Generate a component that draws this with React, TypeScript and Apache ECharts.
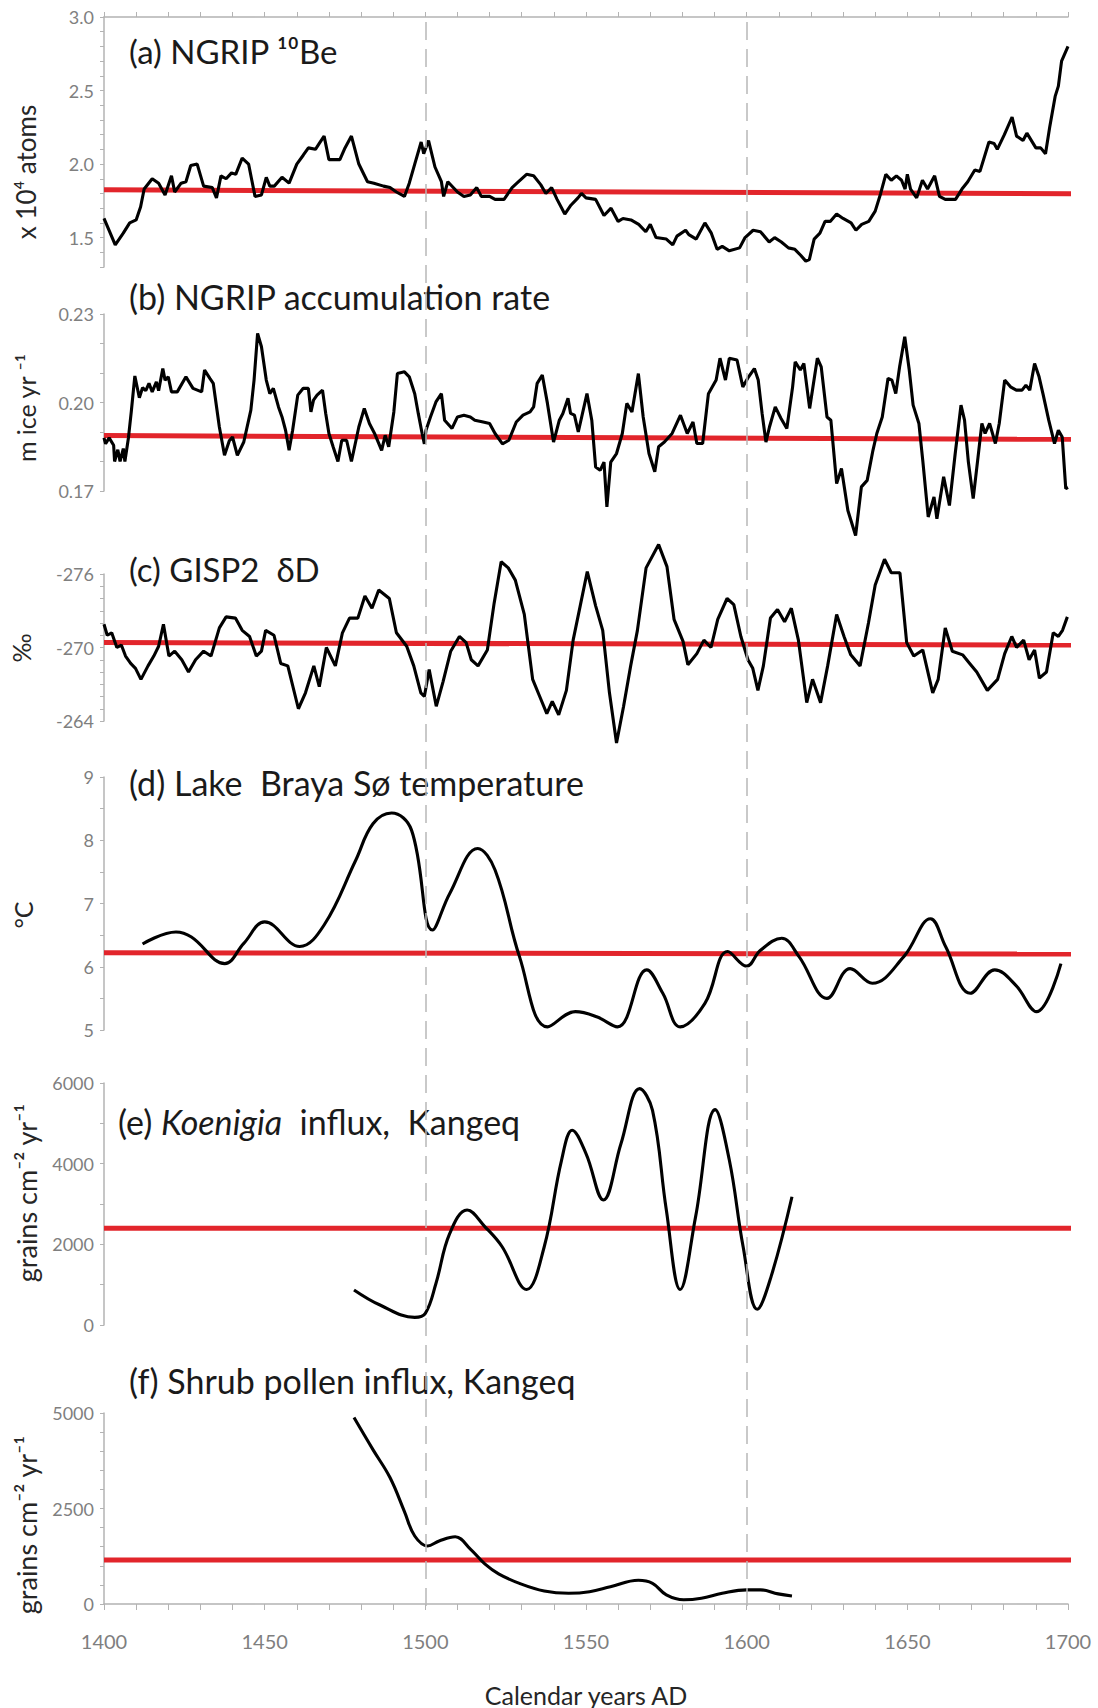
import React, { useEffect, useRef } from "react";
import * as echarts from "echarts";

const W = 1098;
const H = 1708;
const YEAR_MIN = 1400;
const YEAR_MAX = 1700;
const FONT = "Lato, 'Noto Sans', 'DejaVu Sans', sans-serif";

const guideYears = [1500, 1600];

// (a) NGRIP 10Be  [year, x10^4 atoms]
const be10: [number, number][] = [
  [1400, 1.63], [1403.5, 1.45], [1406, 1.53], [1408, 1.6], [1410, 1.62], [1411.4, 1.71], [1412.5, 1.83],
  [1415, 1.9], [1417, 1.87], [1419, 1.79], [1421, 1.92], [1422, 1.81], [1424, 1.87], [1425.5, 1.88],
  [1427, 1.99], [1429, 2.0], [1431, 1.85], [1433.7, 1.84], [1435, 1.77], [1436.4, 1.92], [1438, 1.9],
  [1439.7, 1.94], [1441, 1.93], [1443, 2.04], [1445, 2.0], [1446, 1.89], [1447, 1.78], [1449, 1.79],
  [1450.5, 1.91], [1451.6, 1.85], [1453, 1.85], [1455.4, 1.91], [1457.6, 1.87], [1460, 2.0], [1462, 2.06],
  [1463.6, 2.11], [1465.8, 2.1], [1467, 2.14], [1468.5, 2.19], [1470, 2.03], [1473.4, 2.03], [1475, 2.11],
  [1477, 2.19], [1479.3, 2.0], [1482, 1.88], [1484, 1.87], [1487, 1.85], [1489, 1.84], [1491, 1.81],
  [1493.5, 1.78], [1495, 1.87], [1496.7, 2.0], [1498.7, 2.15], [1499.5, 2.07], [1501, 2.16], [1503, 1.98],
  [1505, 1.88], [1505.7, 1.78], [1507, 1.88], [1510, 1.81], [1512, 1.78], [1514, 1.79], [1516, 1.84],
  [1517.4, 1.78], [1520, 1.78], [1521.7, 1.76], [1524.5, 1.76], [1527, 1.84], [1529, 1.88], [1531.5, 1.93],
  [1533.7, 1.92], [1535.9, 1.86], [1537.5, 1.8], [1539.3, 1.84], [1541, 1.76], [1543.4, 1.66], [1545.3, 1.72],
  [1547.5, 1.77], [1548.6, 1.8], [1550, 1.77], [1553, 1.76], [1555.6, 1.65], [1557.8, 1.7], [1560, 1.61],
  [1561.5, 1.63], [1564, 1.62], [1566.4, 1.59], [1568.6, 1.54], [1570, 1.59], [1571.8, 1.5], [1575, 1.49],
  [1577, 1.45], [1578.3, 1.51], [1581, 1.55], [1582, 1.52], [1584.3, 1.49], [1587, 1.6], [1589, 1.53],
  [1590.8, 1.42], [1592.4, 1.44], [1594.6, 1.41], [1597.8, 1.43], [1599.5, 1.5], [1602, 1.55], [1604.3, 1.54],
  [1607, 1.47], [1608.7, 1.5], [1610.8, 1.47], [1613, 1.43], [1615, 1.42], [1616.8, 1.38], [1618.4, 1.34],
  [1619.5, 1.35], [1621, 1.49], [1622.8, 1.53], [1624.4, 1.61], [1626, 1.61], [1628, 1.66], [1630, 1.63],
  [1632.5, 1.6], [1634, 1.55], [1635.8, 1.59], [1638, 1.61], [1640, 1.68], [1641.7, 1.8], [1643.3, 1.93],
  [1645, 1.89], [1646.6, 1.92], [1648.2, 1.89], [1649.3, 1.83], [1650, 1.93], [1651, 1.83], [1652.9, 1.77],
  [1654.7, 1.89], [1656.3, 1.83], [1658.5, 1.92], [1660, 1.78], [1661.8, 1.76], [1665, 1.76], [1667, 1.83],
  [1668.8, 1.88], [1671, 1.96], [1672.6, 1.95], [1675.4, 2.15], [1677, 2.14], [1678, 2.1], [1680.2, 2.2],
  [1682.6, 2.32], [1684, 2.19], [1686, 2.16], [1687.2, 2.21], [1690, 2.11], [1691.5, 2.11], [1693, 2.07],
  [1694.3, 2.25], [1696, 2.46], [1697, 2.53], [1698, 2.7], [1700, 2.8],
];

// (b) NGRIP accumulation rate  [year, m ice / yr]
const accumulation: [number, number][] = [
  [1400, 0.188], [1400.5, 0.186], [1401.6, 0.188], [1403, 0.1855], [1403.3, 0.18], [1404.3, 0.184],
  [1405, 0.18], [1406, 0.1844], [1406.5, 0.18], [1407.6, 0.188], [1408.5, 0.197], [1409.6, 0.209],
  [1411, 0.2016], [1412, 0.205], [1413, 0.204], [1414, 0.2065], [1415, 0.2036], [1416.3, 0.207],
  [1417, 0.204], [1418.3, 0.2115], [1419, 0.2076], [1420, 0.2087], [1421, 0.2036], [1422.8, 0.2036],
  [1425.5, 0.2087], [1427.7, 0.2048], [1430.4, 0.2036], [1431.3, 0.211], [1433, 0.2081], [1434, 0.2065],
  [1435.9, 0.1917], [1437.5, 0.1821], [1439, 0.187], [1440, 0.1883], [1441.5, 0.1821], [1443.5, 0.1866],
  [1445.7, 0.1974], [1446.7, 0.2076], [1447.8, 0.2234], [1449, 0.2189], [1450.5, 0.2076], [1451.6, 0.203],
  [1452.7, 0.2048], [1454.3, 0.1985], [1455.4, 0.1951], [1456.5, 0.1906], [1457.6, 0.1838], [1458.7, 0.1906],
  [1460.3, 0.2025], [1462, 0.2048], [1463.6, 0.2048], [1464.4, 0.1968], [1465.2, 0.2008], [1466.3, 0.2025],
  [1468, 0.2042], [1469, 0.1963], [1470, 0.1895], [1471.3, 0.185], [1472.8, 0.18], [1474, 0.1872],
  [1475.5, 0.1872], [1477, 0.18], [1479.3, 0.1917], [1481, 0.198], [1482.6, 0.1929], [1484.2, 0.1895],
  [1486.4, 0.1838], [1487.5, 0.1889], [1488.6, 0.185], [1490.2, 0.1968], [1491.3, 0.2098], [1493.5, 0.2104],
  [1495, 0.2087], [1496.7, 0.203], [1497.8, 0.1963], [1499, 0.1895], [1499.7, 0.186], [1500.2, 0.1906],
  [1501.6, 0.1951], [1503.3, 0.2002], [1505, 0.203], [1506, 0.194], [1508.3, 0.1912], [1510, 0.1951],
  [1512, 0.1957], [1514, 0.1951], [1515.4, 0.194], [1518, 0.1934], [1520, 0.1929], [1521.7, 0.1895],
  [1524, 0.186], [1526, 0.1872], [1528.3, 0.1934], [1530.4, 0.1957], [1532.6, 0.1968], [1533.7, 0.1985],
  [1534.8, 0.2065], [1536.4, 0.2093], [1538, 0.1997], [1539.9, 0.1866], [1541.7, 0.194], [1542.8, 0.1963],
  [1544.4, 0.2014], [1545.2, 0.1963], [1546.4, 0.1957], [1547.6, 0.19], [1550.3, 0.203], [1551.8, 0.194],
  [1553, 0.1781], [1554.4, 0.177], [1555.6, 0.1798], [1556.5, 0.1646], [1557.7, 0.1798], [1559.5, 0.1827],
  [1561.3, 0.1895], [1562.7, 0.1997], [1564.3, 0.1968], [1566.3, 0.2098], [1567.8, 0.1951], [1569.6, 0.1827],
  [1571.4, 0.1765], [1572.6, 0.185], [1574.4, 0.1866], [1576.8, 0.1895], [1579.4, 0.1957], [1581.5, 0.1895],
  [1583.3, 0.1934], [1584.5, 0.1861], [1586.3, 0.1861], [1588.1, 0.203], [1590.5, 0.2076], [1591.7, 0.215],
  [1593.4, 0.2076], [1594.6, 0.215], [1597, 0.2144], [1598.8, 0.2053], [1600.6, 0.2087], [1602.4, 0.2115],
  [1603.6, 0.2076], [1604.8, 0.1963], [1606, 0.1866], [1607.1, 0.1917], [1608.9, 0.1985], [1610.7, 0.1946],
  [1612.5, 0.1912], [1614.3, 0.2053], [1615.1, 0.2138], [1616.7, 0.211], [1617.8, 0.2132], [1619.6, 0.198],
  [1620.8, 0.2065], [1622, 0.215], [1623.2, 0.2121], [1625, 0.1951], [1626.2, 0.194], [1628, 0.1725],
  [1629.5, 0.1776], [1631.5, 0.1634], [1633.9, 0.1549], [1635.7, 0.1714], [1637.5, 0.1736], [1639.3, 0.1838],
  [1640.5, 0.1895], [1642.2, 0.1951], [1644, 0.2082], [1645.2, 0.2076], [1646.4, 0.203], [1647.6, 0.2121],
  [1649.2, 0.2223], [1650.6, 0.211], [1651.8, 0.1991], [1653.6, 0.1929], [1654.8, 0.1804], [1656.5, 0.1612],
  [1658.3, 0.168], [1659.2, 0.1606], [1661.3, 0.1748], [1663.1, 0.1651], [1664.9, 0.1827], [1666.7, 0.1991],
  [1667.8, 0.194], [1669, 0.1798], [1670.5, 0.1674], [1672, 0.1815], [1673.2, 0.1929], [1674.2, 0.1895],
  [1675.6, 0.1929], [1677.4, 0.1861], [1678.6, 0.1929], [1680.3, 0.2076], [1682.1, 0.2053], [1683.9, 0.2042],
  [1685.7, 0.2042], [1686.9, 0.2059], [1688.1, 0.2042], [1689.6, 0.2132], [1691, 0.2087], [1692.2, 0.203],
  [1694, 0.194], [1695.8, 0.1861], [1697, 0.1906], [1698.2, 0.1883], [1699.3, 0.1708], [1700, 0.1712],
];

// (c) GISP2 dD  [year, permil]
const gispDD: [number, number][] = [
  [1400, -271.9], [1401, -271.0], [1402.4, -271.2], [1404, -270.0], [1405.4, -270.2], [1406.7, -269.3],
  [1408.3, -268.7], [1409.8, -268.3], [1411.5, -267.4], [1413.7, -268.5], [1415.5, -269.3], [1417, -270.1],
  [1418.5, -271.9], [1420.2, -269.3], [1422, -269.7], [1424.2, -269.0], [1426.3, -268.0], [1428.5, -269.0],
  [1431, -269.7], [1433.3, -269.3], [1435.9, -271.6], [1438, -272.5], [1440.9, -272.4], [1443, -271.4],
  [1445.3, -270.9], [1447.4, -269.3], [1449, -269.7], [1450.3, -271.4], [1452.9, -271.0], [1455, -268.7],
  [1457.2, -268.5], [1460.5, -265.0], [1462.7, -266.3], [1465.3, -268.5], [1467, -266.8], [1469.2, -270.0],
  [1472, -268.5], [1474.2, -271.2], [1476.4, -272.4], [1479, -272.4], [1481.2, -274.2], [1483.4, -273.2],
  [1485.5, -274.7], [1488.8, -274.0], [1491, -271.2], [1494.2, -270.1], [1496.4, -268.5], [1498.6, -266.3],
  [1499.7, -266.0], [1501.2, -268.2], [1503.4, -265.2], [1505.5, -267.2], [1507.9, -269.7], [1510.6, -270.9],
  [1512.7, -270.4], [1514.3, -269.0], [1516.4, -268.5], [1519.3, -269.8], [1521.4, -273.6], [1523.6, -277.0],
  [1525.8, -276.5], [1528, -275.5], [1530.8, -272.7], [1533.4, -267.4], [1535.6, -266.0], [1537.8, -264.6],
  [1539.5, -265.6], [1541.5, -264.5], [1543.9, -266.5], [1546, -270.6], [1548.2, -273.4], [1550.4, -276.2],
  [1553, -273.4], [1555.2, -271.4], [1557.3, -266.3], [1559.5, -262.2], [1561.7, -265.2], [1563.9, -268.5],
  [1566, -271.4], [1568.7, -276.5], [1572.6, -278.4], [1575.2, -276.6], [1577.4, -272.3], [1580.2, -270.5],
  [1581.7, -268.6], [1584.5, -269.5], [1586.7, -270.6], [1588.9, -270.0], [1591, -272.3], [1593.9, -274.0],
  [1596, -273.5], [1598.2, -270.9], [1600.4, -269.0], [1601.9, -268.3], [1603.5, -266.5], [1605.2, -268.5],
  [1607.4, -272.4], [1609.6, -273.1], [1611.8, -272.1], [1613.9, -273.2], [1616.1, -270.6], [1618.7, -265.5],
  [1620.5, -267.4], [1623, -265.5], [1625.2, -268.5], [1628, -272.7], [1630.3, -270.9], [1632.4, -269.4],
  [1635.3, -268.5], [1637.9, -272.0], [1640, -275.1], [1642.9, -277.2], [1645, -276.1], [1647.7, -276.1],
  [1649.8, -270.4], [1652, -269.3], [1654.8, -269.8], [1657.9, -266.3], [1659.6, -267.4], [1661.8, -271.6],
  [1664, -269.7], [1667.2, -269.4], [1669.4, -268.7], [1671.6, -268.0], [1674.9, -266.5], [1678.1, -267.4],
  [1680.3, -269.5], [1682.5, -270.9], [1684, -270.0], [1686.2, -270.6], [1687.9, -269.0], [1689.6, -269.8],
  [1691.1, -267.5], [1693.3, -268.0], [1695.4, -271.2], [1697, -270.9], [1698.3, -271.4], [1699.8, -272.5],
];

// (d) Lake Braya Sø temperature  [year, °C]
const brayaTemp: [number, number][] = [
  [1412, 6.36], [1422.4, 6.55], [1427.2, 6.47], [1437.6, 6.05], [1443.5, 6.37], [1450, 6.71], [1460.9, 6.32],
  [1468.5, 6.66], [1478.3, 7.68], [1483.7, 8.26], [1489.5, 8.43], [1495.7, 8.16], [1502.2, 6.58], [1507.6, 7.16],
  [1516.3, 7.87], [1521.7, 7.53], [1529.3, 6.16], [1538, 5.05], [1546.7, 5.29], [1553.3, 5.21], [1559.8, 5.05],
  [1568.9, 5.95], [1573.9, 5.58], [1579.3, 5.05], [1587, 5.42], [1594.1, 6.24], [1600, 6.01], [1604.3, 6.26],
  [1610.9, 6.45], [1616.3, 6.16], [1625, 5.5], [1632.2, 5.97], [1639.1, 5.74], [1648.9, 6.16], [1657.2, 6.76],
  [1661.9, 6.32], [1669.6, 5.58], [1677.2, 5.95], [1683.7, 5.71], [1690.2, 5.29], [1697.8, 6.05],
];

// (e) Koenigia influx, Kangeq  [year, grains cm-2 yr-1]
const koenigia: [number, number][] = [
  [1477.8, 870], [1485.9, 495], [1496.7, 190], [1500, 290], [1503.3, 1030], [1507.6, 2270], [1513, 2850],
  [1518.5, 2440], [1523.9, 1940], [1531.5, 880], [1537, 1940], [1542.4, 4090], [1545.7, 4830], [1550, 4250],
  [1555.4, 3100], [1560.9, 4500], [1566.7, 5860], [1570.7, 5320], [1575, 2850], [1579.3, 880], [1584.1, 2680],
  [1590.2, 5340], [1594.6, 4090], [1598.9, 1940], [1603.3, 390], [1607.6, 1200], [1614.1, 3180],
];

// (f) Shrub pollen influx, Kangeq  [year, grains cm-2 yr-1]
const shrub: [number, number][] = [
  [1477.8, 4880], [1483.7, 4040], [1489, 3310], [1493.5, 2420], [1496.7, 1780], [1500.7, 1520], [1504.3, 1650],
  [1509.3, 1760], [1514.1, 1430], [1518.5, 1050], [1522.8, 790], [1529.3, 540], [1537, 340], [1544.6, 280],
  [1551.1, 320], [1557.6, 450], [1566.3, 620], [1570.7, 540], [1575, 240], [1580.4, 110], [1585.9, 150],
  [1592.4, 280], [1600, 370], [1604.3, 370], [1609.8, 265], [1614.1, 210],
];

// red reference lines [start, end] over the full time span
const trendBe10: [number, number][] = [[1400, 1.825], [1702, 1.798]];
const trendAccum: [number, number][] = [[1400, 0.1888], [1702, 0.1875]];
const trendDD: [number, number][] = [[1400, -270.4], [1702, -270.2]];
const trendTemp: [number, number][] = [[1400, 6.22], [1702, 6.2]];
const trendKoenigia: [number, number][] = [[1400, 2400], [1702, 2400]];
const trendShrub: [number, number][] = [[1400, 1150], [1702, 1150]];

const GRID_L = 104;
const GRID_W = 964;
const panels = [
  { top: 17, height: 250 },
  { top: 314, height: 177 },
  { top: 574, height: 147 },
  { top: 777, height: 253 },
  { top: 1083, height: 242 },
  { top: 1413, height: 193 },
];

const AXIS_GRAY = "#b3b3b3";
const LABEL_GRAY = "#7f7f7f";

function yAxis(i: number, min: number, max: number, interval: number, fmt: (v: number) => string, extra: any = {}) {
  return {
    type: "value",
    gridIndex: i,
    min,
    max,
    interval,
    axisLine: { show: true, lineStyle: { color: AXIS_GRAY, width: 1.5 } },
    axisTick: { show: true, length: 4, lineStyle: { color: AXIS_GRAY, width: 1 } },
    axisLabel: { show: true, formatter: fmt, color: LABEL_GRAY, fontSize: 18, fontFamily: FONT, margin: 10 },
    splitLine: { show: false },
    ...extra,
  };
}

function dataSeries(i: number, data: [number, number][], smooth: boolean) {
  return {
    type: "line",
    xAxisIndex: i,
    yAxisIndex: i,
    data,
    smooth: smooth ? 0.4 : false,
    symbol: "none",
    clip: false,
    z: 4,
    lineStyle: { color: "#000000", width: 3.1 },
  };
}

function trendSeries(i: number, data: [number, number][]) {
  return {
    type: "line",
    xAxisIndex: i,
    yAxisIndex: i,
    data,
    symbol: "none",
    clip: false,
    z: 3,
    lineStyle: { color: "#e2252b", width: 5 },
  };
}

function nameText(text: string, x: number, y: number, size: number) {
  return {
    type: "text",
    x,
    y,
    rotation: Math.PI / 2,
    style: {
      text,
      fontSize: size,
      fontFamily: FONT,
      fill: "#262626",
      align: "center",
      verticalAlign: "middle",
      textAlign: "center",
      textVerticalAlign: "middle",
    },
  };
}

function titleText(text: string, x: number, y: number, size: number, rich?: any) {
  return {
    type: "text",
    x,
    y,
    style: {
      text,
      fontSize: size,
      fontFamily: FONT,
      fill: "#1a1a1a",
      align: "left",
      verticalAlign: "middle",
      textAlign: "left",
      textVerticalAlign: "middle",
      rich,
    },
  };
}

export default function App() {
  const ref = useRef<HTMLDivElement>(null);

  useEffect(() => {
    document.body.style.margin = "0";
    if (!ref.current) return;
    const chart = echarts.init(ref.current, undefined, { renderer: "svg" });

    const grids: any[] = panels.map((p) => ({ left: GRID_L, width: GRID_W, top: p.top, height: p.height }));
    grids.push({ left: GRID_L, width: GRID_W, top: 17, height: 1606 - 17 });

    const xAxes: any[] = [];
    for (let i = 0; i < 7; i++) {
      const base: any = { type: "value", gridIndex: i, min: YEAR_MIN, max: YEAR_MAX, interval: 10, splitLine: { show: false } };
      if (i === 0) {
        xAxes.push({
          ...base,
          position: "top",
          axisLine: { show: true, onZero: false, lineStyle: { color: AXIS_GRAY, width: 1.5 } },
          axisTick: { show: true, length: 5, lineStyle: { color: AXIS_GRAY } },
          axisLabel: { show: false },
        });
      } else if (i === 5) {
        xAxes.push({
          ...base,
          position: "bottom",
          name: "Calendar years AD",
          nameLocation: "middle",
          nameGap: 78,
          nameTextStyle: { fontSize: 25, fontFamily: FONT, color: "#262626" },
          axisLine: { show: true, onZero: false, lineStyle: { color: AXIS_GRAY, width: 1.5 } },
          axisTick: { show: true, length: 6, lineStyle: { color: AXIS_GRAY } },
          axisLabel: {
            show: true,
            margin: 27,
            color: LABEL_GRAY,
            fontSize: 20,
            fontFamily: FONT,
            formatter: (v: number) => (Math.round(v) % 50 === 0 ? String(Math.round(v)) : ""),
          },
        });
      } else {
        xAxes.push({ ...base, show: false });
      }
    }

    const intFmt = (v: number) => (Math.abs(v - Math.round(v)) < 1e-6 ? String(Math.round(v)) : "");
    const yAxes: any[] = [
      yAxis(0, 1.3, 3.0, 0.1, (v) => {
        const k = Math.round(v * 10);
        return k % 5 === 0 ? (k / 10).toFixed(1) : "";
      }),
      yAxis(1, 0.17, 0.23, 0.01, (v) => {
        const k = Math.round(v * 100);
        return k % 3 === 2 ? (k / 100).toFixed(2) : "";
      }),
      yAxis(2, -276, -264, 1, (v) => {
        const k = Math.round(v);
        return k % 6 === 0 ? String(k) : "";
      }, { inverse: true }),
      yAxis(3, 5, 9, 0.5, intFmt),
      yAxis(4, 0, 6000, 1000, (v) => (Math.round(v) % 2000 === 0 ? String(Math.round(v)) : "")),
      yAxis(5, 0, 5000, 500, (v) => (Math.round(v) % 2500 === 0 ? String(Math.round(v)) : "")),
      { type: "value", gridIndex: 6, min: 0, max: 1, show: false },
    ];

    const option: any = {
      animation: false,
      backgroundColor: "#ffffff",
      grid: grids,
      xAxis: xAxes,
      yAxis: yAxes,
      series: [
        {
          type: "line",
          xAxisIndex: 6,
          yAxisIndex: 6,
          data: [[YEAR_MIN, 0.5]],
          symbol: "none",
          lineStyle: { opacity: 0 },
          z: 1,
          markLine: {
            silent: true,
            symbol: "none",
            label: { show: false },
            lineStyle: { type: [18, 9], color: "#b8b8b8", width: 1.5 },
            data: guideYears.map((y) => ({ xAxis: y })),
          },
        },
        trendSeries(0, trendBe10),
        trendSeries(1, trendAccum),
        trendSeries(2, trendDD),
        trendSeries(3, trendTemp),
        trendSeries(4, trendKoenigia),
        trendSeries(5, trendShrub),
        dataSeries(0, be10, false),
        dataSeries(1, accumulation, false),
        dataSeries(2, gispDD, false),
        dataSeries(3, brayaTemp, true),
        dataSeries(4, koenigia, true),
        dataSeries(5, shrub, true),
      ],
      graphic: [
        titleText("(a) NGRIP ¹⁰Be", 129, 51, 33),
        titleText("(b) NGRIP accumulation rate", 129, 296, 34),
        titleText("(c) GISP2  δD", 129, 569, 33),
        titleText("(d) Lake  Braya Sø temperature", 129, 782, 34),
        titleText("(e) {i|Koenigia}  influx,  Kangeq", 118, 1121, 34, {
          i: { fontStyle: "italic", fontSize: 34, fontFamily: FONT, fill: "#1a1a1a" },
        }),
        titleText("(f) Shrub pollen influx, Kangeq", 129, 1380, 34),
        nameText("x 10⁴ atoms", 26, 172, 26),
        nameText("m ice yr ⁻¹", 26, 408, 25),
        nameText("‰", 21, 648, 25),
        nameText("°C", 23, 915, 25),
        nameText("grains cm⁻² yr⁻¹", 26, 1193, 27),
        nameText("grains cm⁻² yr⁻¹", 26, 1525, 27),
      ],
    };

    chart.setOption(option);
    return () => chart.dispose();
  }, []);

  return <div ref={ref} style={{ width: W, height: H }} />;
}
